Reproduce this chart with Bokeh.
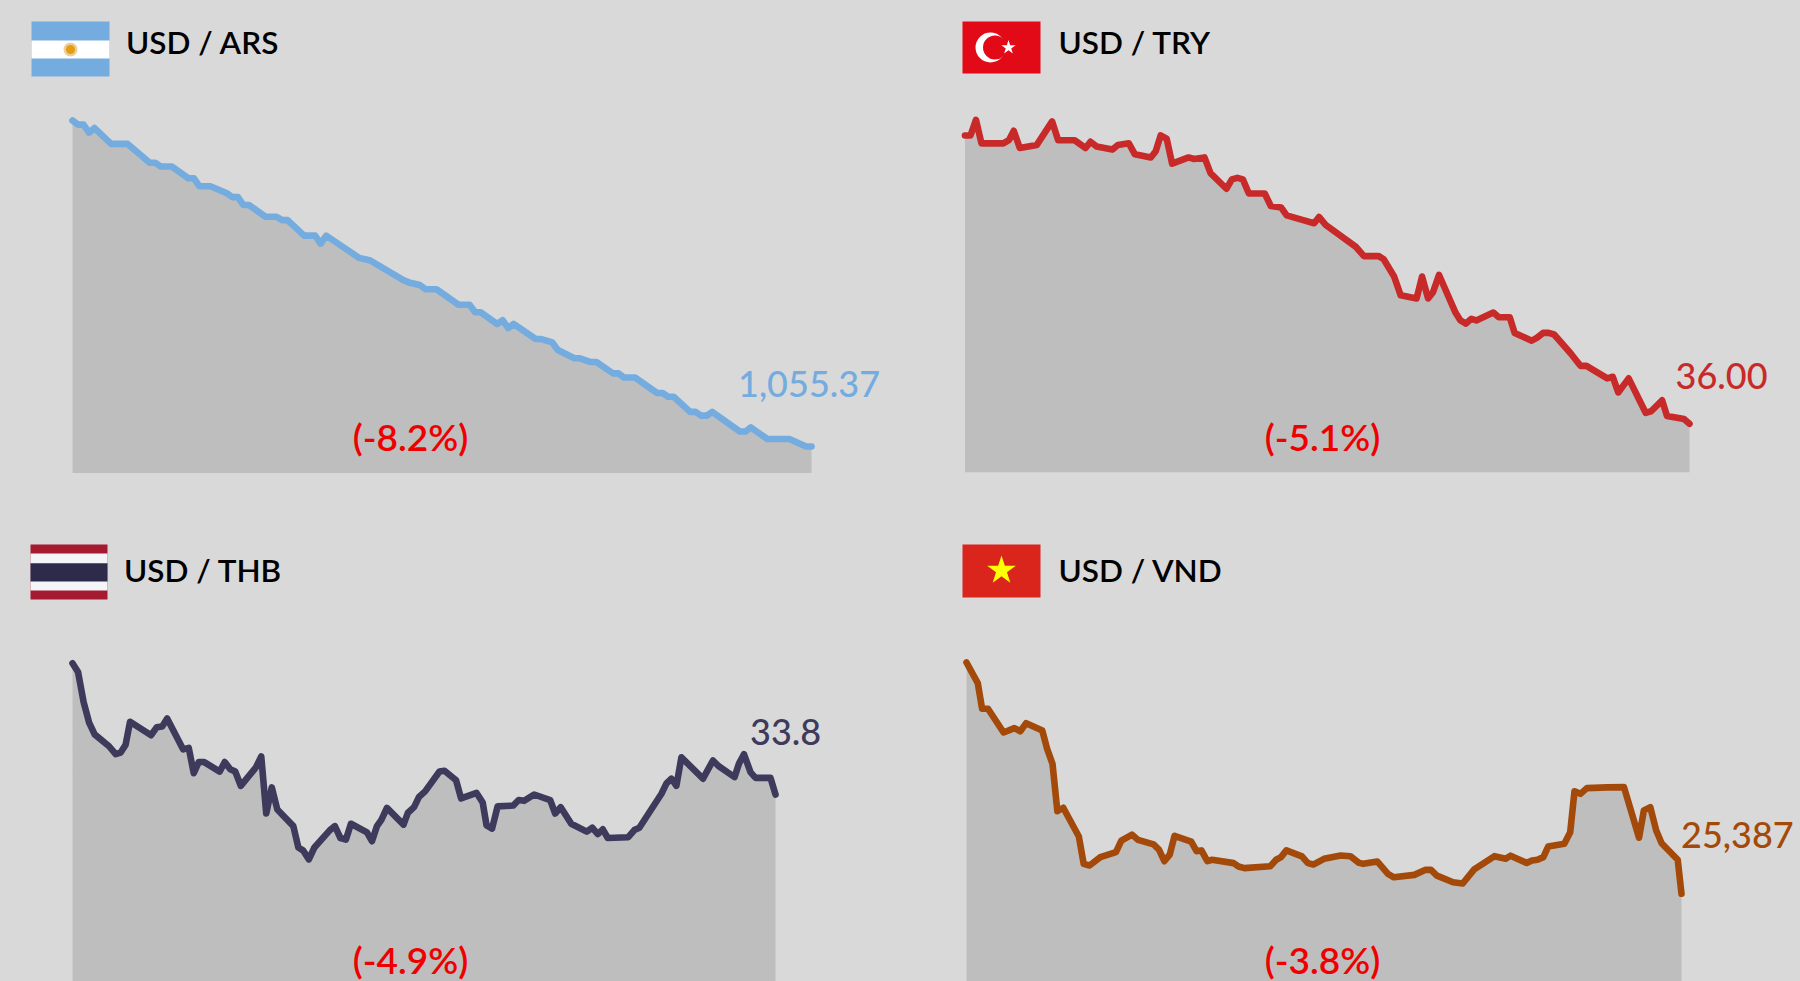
from bokeh.plotting import figure
from bokeh.layouts import column, row
from bokeh.models import Range1d, GlobalInlineStyleSheet
from bokeh.core.properties import value
from bokeh.embed import file_html
from bokeh.resources import INLINE

BG = "#d9d9d9"
AREA = "#bebebe"
RED = "#ee0000"
FONT = "Lato Medium"
FONT_HEAVY = "Lato Semibold"

ars_days = [0,1,2,3,4,7,10,14,15,16,18,21,22,23,25,28,29,30,31,32,35,37,38,39,42,44,45,46,52,54,60,61,63,64,66,70,72,73,74,77,78,79,80,84,85,87,88,91,92,94,95,98,99,100,102,106,107,108,109,112,113,114,115,116,121,122,123,126,130,133,134]
ars_rate = [969.0,970.1,970.1,972.2,971.0,975.2,975.2,980.2,980.2,981.2,981.2,984.3,984.3,986.4,986.4,988.3,989.3,989.3,991.4,991.4,994.5,994.5,995.4,995.4,999.5,999.5,1001.6,999.5,1005.4,1006.1,1011.3,1011.9,1012.6,1013.7,1013.7,1017.8,1017.8,1019.8,1019.8,1022.9,1021.9,1024.0,1022.9,1026.9,1026.9,1027.8,1029.8,1032.0,1032.0,1033.0,1033.0,1036.0,1036.0,1037.1,1037.1,1041.2,1041.2,1042.2,1042.2,1046.2,1046.2,1047.2,1047.2,1046.2,1051.4,1051.4,1050.3,1053.4,1053.4,1055.37,1055.37]

try_days = [0,1,2,3,7,8,8.9,10,13.1,15.9,17,20,22,22.9,24,26.9,27.9,29.9,31,33.9,34.8,35.7,36.8,37.8,40.8,41.8,43.7,44.8,47.7,48.7,49.7,50.7,51.8,54.7,55.8,57.7,58.7,61.7,63.7,64.6,65.8,71.3,72.8,75.5,76.4,78.3,79.5,82.4,83.4,84.5,85.4,86.5,89.5,90.4,91.4,92.4,93.3,96.4,97.4,99.4,100.3,103.4,104.4,105.5,106.5,107.5,110.5,112.3,113.4,117.2,118.2,119.2,121.1,124.2,125.2,127.2,128.1,131.2,132.2]
try_rate = [34.16,34.16,34.06,34.21,34.21,34.19,34.13,34.24,34.22,34.07,34.19,34.19,34.24,34.20,34.23,34.25,34.22,34.21,34.28,34.30,34.26,34.16,34.18,34.34,34.30,34.31,34.30,34.40,34.50,34.44,34.43,34.44,34.53,34.53,34.61,34.62,34.67,34.70,34.72,34.68,34.73,34.87,34.93,34.93,34.95,35.06,35.18,35.20,35.06,35.20,35.16,35.05,35.29,35.34,35.36,35.33,35.34,35.29,35.32,35.32,35.42,35.47,35.45,35.42,35.42,35.43,35.55,35.63,35.63,35.71,35.70,35.80,35.71,35.93,35.92,35.85,35.95,35.97,36.00]

thb_days = [0,1,2,3,4,6.6,7.8,8.7,9.6,10.4,14.2,15.2,16.2,17.1,20,21,21.9,22.8,23.8,26.6,27.5,28.5,29.4,30.4,33.1,34.1,35,36,37,39.9,40.8,41.7,42.7,43.7,46.5,47.4,48.4,49.4,50.3,53.2,54.1,55,55.8,56.8,59.8,60.6,61.7,62.6,63.7,66.3,67.2,69.3,70.2,73,74.1,74.8,75.8,76.8,79.6,80.6,81.6,83.4,86.3,87.2,88.2,90.1,92.9,93.9,94.9,95.8,96.7,100.4,101.5,102.4,106.4,107.3,108.2,109.1,110,113.9,115.7,116.7,119.6,120.4,121.3,122.5,123.4,126.1,127]
thb_rate = [32.14,32.25,32.63,32.89,33.04,33.19,33.29,33.27,33.17,32.88,33.05,32.95,32.94,32.84,33.23,33.21,33.53,33.39,33.39,33.51,33.39,33.48,33.51,33.69,33.46,33.32,34.04,33.71,33.99,34.20,34.47,34.51,34.62,34.47,34.25,34.20,34.35,34.37,34.17,34.28,34.39,34.20,34.12,33.97,34.18,34.03,33.96,33.83,33.76,33.51,33.50,33.62,33.85,33.78,33.90,34.19,34.23,33.95,33.94,33.87,33.88,33.80,33.87,34.04,33.96,34.17,34.27,34.22,34.30,34.24,34.35,34.34,34.25,34.22,33.79,33.66,33.60,33.69,33.33,33.60,33.37,33.44,33.58,33.41,33.29,33.52,33.59,33.59,33.80]

vnd_days = [0,2.1,2.9,4,6.9,8.9,10,11.1,14.1,15,16,16.9,18,20.9,21.8,22.9,24.9,27.8,28.8,30.8,31.9,34.8,35.8,36.8,37.8,38.7,41.8,42.8,43.7,44.8,45.7,49.7,50.6,51.7,56.5,57.6,58.5,59.5,62.4,63.5,64.5,66.5,69.6,71.4,73,73.8,76.4,78.4,79.5,83.3,85.4,86.4,87.5,90.5,92.3,94.4,98.2,100.3,101.2,104.2,105.2,106.2,107.3,108.2,111.2,112.3,113.1,114.2,115.4,119.2,122.3,125.1,126,127.2,128.3,129.3,132.3,133]
vnd_rate = [24422,24508,24615,24615,24714,24696,24709,24675,24706,24782,24845,25042,25028,25148,25262,25269,25234,25213,25165,25140,25162,25181,25203,25251,25224,25145,25169,25209,25206,25251,25245,25259,25273,25280,25272,25245,25234,25206,25231,25259,25265,25241,25227,25230,25258,25262,25252,25304,25318,25308,25287,25287,25311,25339,25344,25286,25230,25241,25228,25258,25248,25245,25234,25190,25178,25130,24959,24970,24946,24943,24942,25153,25039,25026,25123,25176,25245,25387]

titles = ["USD / ARS", "USD / TRY", "USD / THB", "USD / VND"]
last_labels = ["1,055.37", "36.00", "33.8", "25,387"]
change_labels = ["(-8.2%)", "(-5.1%)", "(-4.9%)", "(-3.8%)"]
colors = ["#74acdf", "#c82a2a", "#3d3a5c", "#a34a0b"]

CSS = GlobalInlineStyleSheet(css=f"html,body{{margin:0;padding:0;background:{BG};overflow:hidden}}")


def panel(left, top, w, h, days, rate, color, x0, x1, y0, y1, floor_px):
    """x0..x1: page px of first/last day; y0,y1: page px of first/last rate."""
    sx = (x1 - x0) / (days[-1] - days[0])
    sy = (y1 - y0) / (rate[-1] - rate[0])
    xr = Range1d(days[0] + (left - x0) / sx, days[0] + (left + w - x0) / sx)
    yr = Range1d(rate[0] + (top + h - y0) / sy, rate[0] + (top - y0) / sy)
    p = figure(width=w, height=h, x_range=xr, y_range=yr, output_backend="svg",
               toolbar_location=None, x_axis_location=None, y_axis_location=None,
               background_fill_color=BG, border_fill_color=BG, outline_line_color=None,
               min_border=0, tools="")
    p.grid.visible = False
    p.extra_x_ranges["px"] = Range1d(left, left + w)
    p.extra_y_ranges["px"] = Range1d(top + h, top)
    floor = rate[0] + (floor_px - y0) / sy
    p.varea(x=days, y1=[floor] * len(days), y2=rate, fill_color=AREA)
    p.line(days, rate, line_color=color, line_width=6.6, line_cap="round", line_join="round")
    return p


def label(p, x, y, txt, color, size, align="left", font=FONT):
    # the text sits about 0.39 of its size below the given line in this renderer
    p.text([x], [y - 0.39 * size], text=[txt], text_color=color, text_font=value(font),
           text_font_size=f"{size}px", text_align=align, text_baseline="alphabetic",
           x_range_name="px", y_range_name="px")


def stripe(p, l, r, t, b, color):
    p.quad(left=[l], right=[r], top=[t], bottom=[b], fill_color=color, line_color=None,
           x_range_name="px", y_range_name="px")


def disc(p, x, y, d, color):
    p.scatter([x], [y], size=d, marker="circle", fill_color=color, line_color=None,
              x_range_name="px", y_range_name="px")


def star(p, x, y, d, color):
    p.scatter([x], [y], size=d, marker="star", fill_color=color, line_color=None,
              x_range_name="px", y_range_name="px")


a = panel(0, 0, 900, 490, ars_days, ars_rate, colors[0], 72, 811, 120, 446, 472.5)
stripe(a, 31, 109, 21, 76, colors[0])
stripe(a, 31, 109, 40, 58, "#ffffff")
disc(a, 70, 49, 14, "#e9cf9a")
disc(a, 70, 49, 9, "#e89b10")
label(a, 125.5, 54, titles[0], "#000000", 31.5, font=FONT_HEAVY)
label(a, 737.5, 398, last_labels[0], colors[0], 36)
label(a, 410, 450, change_labels[0], RED, 37, "center", FONT_HEAVY)

t = panel(900, 0, 900, 490, try_days, try_rate, colors[1], 964.5, 1689, 135, 423.3, 471.7)
stripe(t, 962, 1040, 21, 73, "#e30a17")
disc(t, 990, 47, 30, "#ffffff")
disc(t, 994.5, 47, 24, "#e30a17")
star(t, 1008, 47, 15, "#ffffff")
label(t, 1058, 54, titles[1], "#000000", 31.5, font=FONT_HEAVY)
label(t, 1675, 390, last_labels[1], colors[1], 36)
label(t, 1322, 450, change_labels[1], RED, 37, "center", FONT_HEAVY)

h = panel(0, 490, 900, 491, thb_days, thb_rate, colors[2], 72, 775, 662.7, 794, 1000)
stripe(h, 30, 107, 544, 599, "#a51931")
stripe(h, 30, 107, 553, 590, "#f4f5f8")
stripe(h, 30, 107, 562.7, 581, "#2d2a4a")
label(h, 123.5, 582, titles[2], "#000000", 31.5, font=FONT_HEAVY)
label(h, 749.5, 746, last_labels[2], colors[2], 36)
label(h, 410, 973, change_labels[2], RED, 37, "center", FONT_HEAVY)

v = panel(900, 490, 900, 491, vnd_days, vnd_rate, colors[3], 966, 1681, 662, 893.3, 1000)
stripe(v, 962, 1040, 544, 597, "#da251d")
star(v, 1001, 570, 30, "#ffff00")
label(v, 1058, 582, titles[3], "#000000", 31.5, font=FONT_HEAVY)
label(v, 1680.5, 849, last_labels[3], colors[3], 36)
label(v, 1322, 973, change_labels[3], RED, 37, "center", FONT_HEAVY)

page = column(row(a, t, spacing=0), row(h, v, spacing=0), spacing=0, stylesheets=[CSS])
open("out.html", "w").write(file_html(page, INLINE))
